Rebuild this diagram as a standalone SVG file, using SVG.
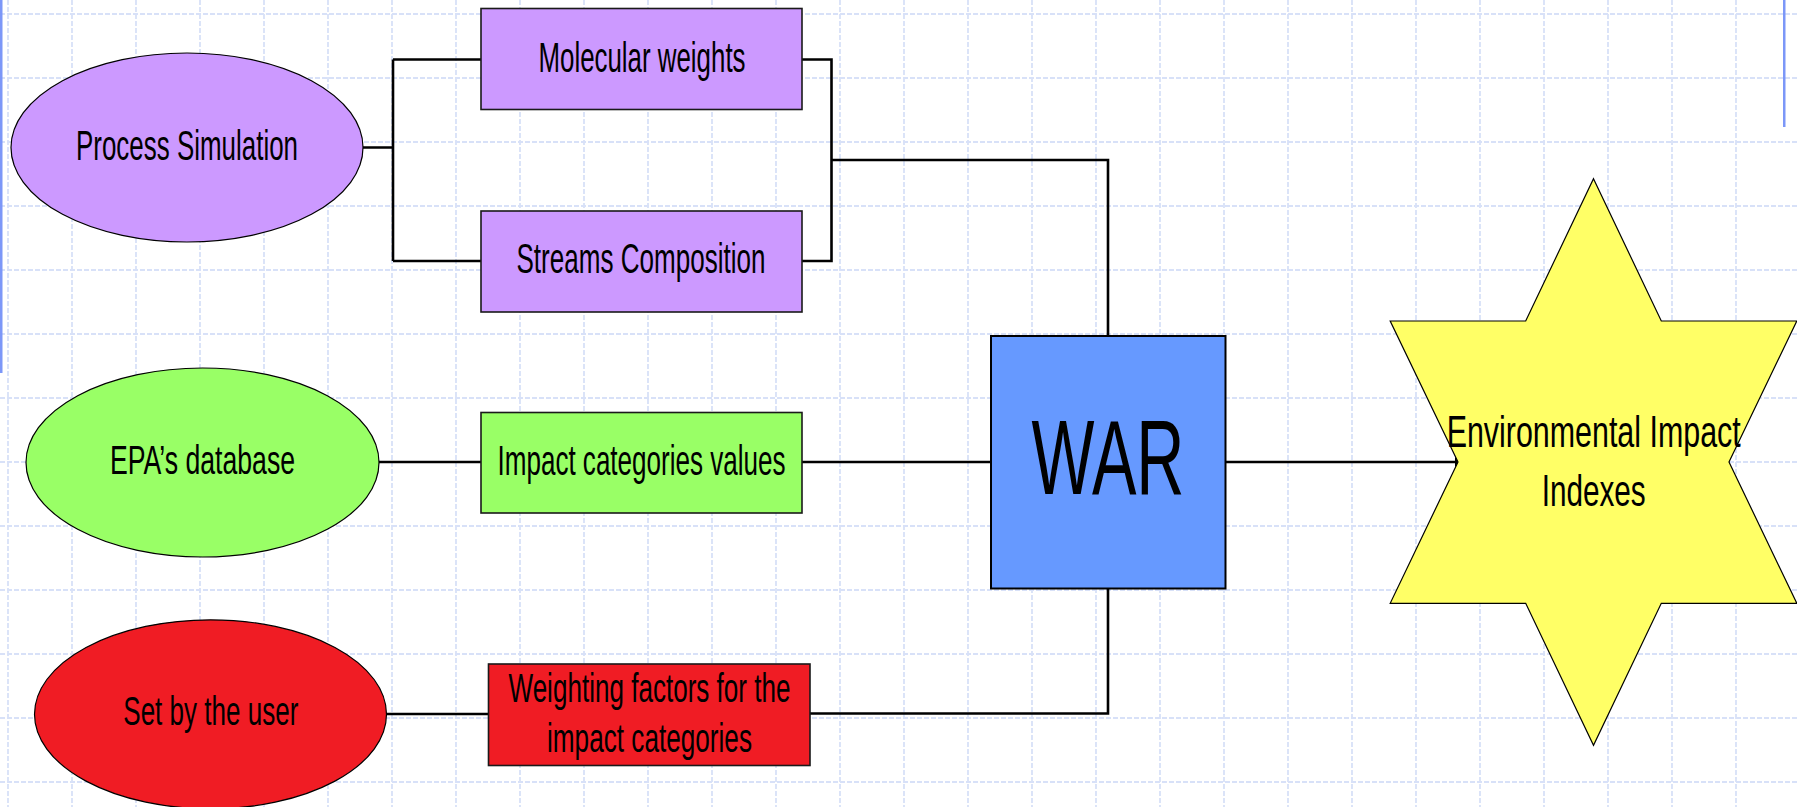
<svg xmlns="http://www.w3.org/2000/svg" width="1797" height="807" viewBox="0 0 1797 807">
<style>
.grid{fill:none;stroke:#d8e1f8;stroke-width:1.8;stroke-dasharray:5 2}
.conn{fill:none;stroke:#000;stroke-width:2.6;stroke-linejoin:miter}
.node{stroke:#1a1a1a;stroke-width:1.6}
.ell{stroke:#000;stroke-width:1.2}
.t{font-family:"Liberation Sans Narrow","Liberation Sans",Arial,sans-serif;fill:#000;text-anchor:middle}
.purple{fill:#CC99FF}
.green{fill:#99FF66}
.red{fill:#F01C24}
.blue{fill:#6699FF}
.yellow{fill:#FFFF66}
</style>
<defs>
<marker id="arrow" markerWidth="10" markerHeight="10" refX="0" refY="5" orient="auto" markerUnits="userSpaceOnUse"><path d="M0,0 L10,5 L0,10 Z" fill="#000"/></marker>
</defs>
<rect width="1797" height="807" fill="#fff"/>
<g id="grid">
<path class="grid" d="M8 0V807M72 0V807M136 0V807M200 0V807M264 0V807M328 0V807M392 0V807M456 0V807M520 0V807M584 0V807M648 0V807M712 0V807M776 0V807M840 0V807M904 0V807M968 0V807M1032 0V807M1096 0V807M1160 0V807M1224 0V807M1288 0V807M1352 0V807M1416 0V807M1480 0V807M1544 0V807M1608 0V807M1672 0V807M1736 0V807"/>
<path class="grid" d="M0 14H1797M0 78H1797M0 142H1797M0 206H1797M0 270H1797M0 334H1797M0 398H1797M0 462H1797M0 526H1797M0 590H1797M0 654H1797M0 718H1797M0 782H1797"/>
<rect x="0" y="0" width="2.5" height="373" fill="#7c97f8"/>
<rect x="1783" y="0" width="2.5" height="127" fill="#7c97f8"/>
</g>
<g id="connectors">
<path class="conn" d="M363 147.5H393M393 59.5V261M393 59.5H481M393 261H481"/>
<path class="conn" d="M802 59.5H831.5V261H802M831.5 160H1108V336"/>
<path class="conn" d="M379 462H481M802 462H991"/>
<path class="conn" d="M386.5 714H488.5M810 713.5H1108V588"/>
<path class="conn" d="M1225.5 462H1455" marker-end="url(#arrow)"/>
</g>
<g id="process-simulation">
<ellipse class="purple ell" cx="187" cy="147.5" rx="176" ry="94.5"/>
<text class="t" x="187" y="160" font-size="42" textLength="222" lengthAdjust="spacingAndGlyphs">Process Simulation</text>
</g>
<g id="molecular-weights">
<rect class="purple node" x="481" y="8.5" width="321" height="101"/>
<text class="t" x="642" y="72" font-size="42" textLength="207" lengthAdjust="spacingAndGlyphs">Molecular weights</text>
</g>
<g id="streams-composition">
<rect class="purple node" x="481" y="211" width="321" height="101"/>
<text class="t" x="641" y="273" font-size="42" textLength="249" lengthAdjust="spacingAndGlyphs">Streams Composition</text>
</g>
<g id="epa-database">
<ellipse class="green ell" cx="202.5" cy="462.5" rx="176.5" ry="94.5"/>
<text class="t" x="202.5" y="474" font-size="40" textLength="185" lengthAdjust="spacingAndGlyphs">EPA’s database</text>
</g>
<g id="impact-categories-values">
<rect class="green node" x="481" y="412.5" width="321" height="100.5"/>
<text class="t" x="641.5" y="475" font-size="42" textLength="288" lengthAdjust="spacingAndGlyphs">Impact categories values</text>
</g>
<g id="set-by-user">
<ellipse class="red ell" cx="210.5" cy="714.3" rx="176" ry="94.5"/>
<text class="t" x="210.8" y="725" font-size="40" textLength="175" lengthAdjust="spacingAndGlyphs">Set by the user</text>
</g>
<g id="weighting-factors">
<rect class="red node" x="488.5" y="664" width="321.5" height="101.5"/>
<text class="t" x="649.5" y="702" font-size="40" textLength="282" lengthAdjust="spacingAndGlyphs">Weighting factors for the</text>
<text class="t" x="649.5" y="751.5" font-size="40" textLength="205" lengthAdjust="spacingAndGlyphs">impact categories</text>
</g>
<g id="war">
<rect class="blue" x="991" y="336" width="234.5" height="252.5" stroke="#000" stroke-width="2"/>
<text class="t" x="1108" y="494" font-size="106" textLength="153" lengthAdjust="spacingAndGlyphs">WAR</text>
</g>
<g id="environmental-impact-indexes">
<polygon class="yellow ell" points="1593.5,178.7 1661.3,321 1796.8,321 1729,462 1796.8,603.3 1661.3,603.3 1593.5,745.3 1525.7,603.3 1390.2,603.3 1458,462 1390.2,321 1525.7,321"/>
<text class="t" x="1593.7" y="446.5" font-size="45" textLength="294" lengthAdjust="spacingAndGlyphs">Environmental Impact</text>
<text class="t" x="1593.7" y="506" font-size="45" textLength="104" lengthAdjust="spacingAndGlyphs">Indexes</text>
</g>
</svg>
